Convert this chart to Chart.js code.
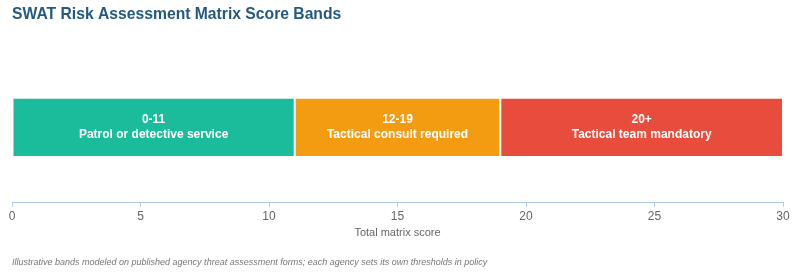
<!DOCTYPE html>
<html lang="en">
<head>
    <meta charset="UTF-8">
    <title>SWAT Risk Assessment Matrix Score Bands</title>
    <script src="https://cdn.jsdelivr.net/npm/chart.js@4/dist/chart.umd.min.js"></script>
    <style>
        html, body { margin: 0; padding: 0; background: #fff; }
        #wrap { width: 800px; height: 274px; }
    </style>
</head>
<body>
<div id="wrap"><canvas id="myChart"></canvas></div>

<script>
    // score bands
    var bandRanges = ["0-11", "12-19", "20+"];
    var bandNames = ["Patrol or detective service", "Tactical consult required", "Tactical team mandatory"];
    var bandWidths = [11, 8, 11];
    var bandColors = ["#1abc9c", "#f39c12", "#e74c3c"];
    var xTicks = [0, 5, 10, 15, 20, 25, 30];

    var datasets = [];
    for (var i = 0; i < bandWidths.length; i++) {
        datasets.push({
            label: bandRanges[i] + " " + bandNames[i],
            data: [bandWidths[i]],
            backgroundColor: bandColors[i],
            borderColor: "#ffffff",
            borderWidth: 1,
            borderSkipped: false,
            barPercentage: 0.8,
            categoryPercentage: 0.49
        });
    }

    // writes range + name in the middle of each band
    var bandText = {
        id: "bandText",
        afterDatasetsDraw: function (chart) {
            var ctx = chart.ctx;
            ctx.save();
            ctx.fillStyle = "#ffffff";
            ctx.textAlign = "center";
            ctx.textBaseline = "middle";
            ctx.font = "bold 12px Arial, 'Liberation Sans', sans-serif";
            chart.data.datasets.forEach(function (ds, i) {
                var bar = chart.getDatasetMeta(i).data[0];
                var cx = (bar.x + bar.base) / 2;
                ctx.fillText(bandRanges[i], cx, bar.y - 8);
                ctx.fillText(bandNames[i], cx, bar.y + 7);
            });
            ctx.restore();
        }
    };

    new Chart(document.getElementById("myChart"), {
        type: "bar",
        data: {
            labels: ["Score"],
            datasets: datasets
        },
        plugins: [bandText],
        options: {
            indexAxis: "y",
            responsive: true,
            maintainAspectRatio: false,
            animation: false,
            layout: { padding: { left: 12, right: 17, top: 0, bottom: 6 } },
            plugins: {
                legend: { display: false },
                tooltip: { enabled: false },
                title: {
                    display: true,
                    text: "SWAT Risk Assessment Matrix Score Bands",
                    align: "start",
                    color: "#245a80",
                    font: { family: "Arial, 'Liberation Sans', sans-serif", size: 15.7, weight: "bold" },
                    padding: { top: 5, bottom: 28 }
                },
                subtitle: {
                    display: true,
                    position: "bottom",
                    align: "start",
                    text: "Illustrative bands modeled on published agency threat assessment forms; each agency sets its own thresholds in policy",
                    color: "#777777",
                    font: { family: "Arial, 'Liberation Sans', sans-serif", size: 9, style: "italic" },
                    padding: { top: 14, bottom: 0 }
                }
            },
            scales: {
                x: {
                    stacked: true,
                    min: 0,
                    max: 30,
                    afterBuildTicks: function (axis) {
                        axis.ticks = xTicks.map(function (v) { return { value: v }; });
                    },
                    border: { display: true, color: "#b0c8e4" },
                    grid: { drawOnChartArea: false, drawTicks: true, tickLength: 4, color: "#b0c8e4" },
                    ticks: {
                        color: "#666666",
                        padding: 3,
                        font: { family: "Arial, 'Liberation Sans', sans-serif", size: 12 }
                    },
                    title: {
                        display: true,
                        text: "Total matrix score",
                        color: "#666666",
                        padding: { top: 0, bottom: 5 },
                        font: { family: "Arial, 'Liberation Sans', sans-serif", size: 11, lineHeight: 1.0 }
                    }
                },
                y: {
                    stacked: true,
                    display: false
                }
            }
        }
    });
</script>
</body>
</html>
